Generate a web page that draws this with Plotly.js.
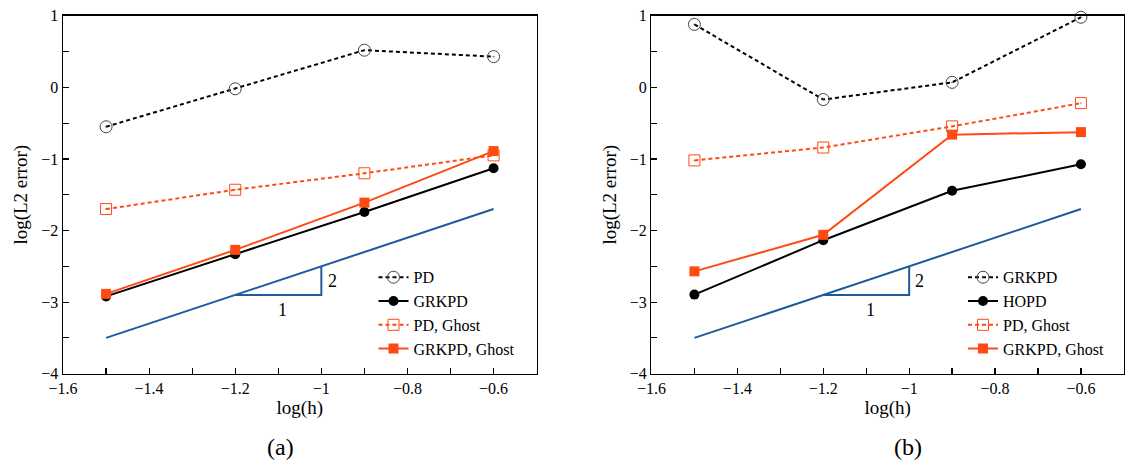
<!DOCTYPE html>
<html>
<head>
<meta charset="utf-8">
<script src="https://cdn.plot.ly/plotly-3.0.1.min.js"></script>
<style>html,body{margin:0;padding:0;background:#fff;}#chart{width:1125px;height:475px;}</style>
</head>
<body>
<div id="chart"></div>
<script>
// ---- data ----
const logH = [-1.5, -1.2, -0.9, -0.6];

// panel (a)
const aPD = [-0.55, -0.02, 0.52, 0.43];
const aGRKPD = [-2.92, -2.33, -1.74, -1.13];
const aPDGhost = [-1.70, -1.43, -1.20, -0.95];
const aGRKPDGhost = [-2.885, -2.27, -1.61, -0.89];

// panel (b)
const bGRKPD = [0.88, -0.17, 0.07, 0.98];
const bHOPD = [-2.895, -2.135, -1.445, -1.075];
const bPDGhost = [-1.02, -0.84, -0.545, -0.22];
const bGRKPDGhost = [-2.57, -2.06, -0.66, -0.625];

// slope-2 reference line and triangle
const refX = [-1.5, -0.6];
const refY = [-3.5, -1.7];
const triX = [-1.2, -1.0, -1.0];
const triY = [-2.9, -2.9, -2.5];
const slopeLabels = ['2', '1'];
const slopeLabelX = [-0.975, -1.09];
const slopeLabelY = [-2.7, -3.11];

const names_a = ['PD', 'GRKPD', 'PD, Ghost', 'GRKPD, Ghost'];
const names_b = ['GRKPD', 'HOPD', 'PD, Ghost', 'GRKPD, Ghost'];
const panelLabels = ['(a)', '(b)'];

// ---- styles ----
const BLACK = '#000000';
const ORANGE = '#ff4a14';
const BLUE = '#1f5a9a';
const FONT = "'Liberation Serif', 'DejaVu Serif', serif";

function series(y, name, style, xa, ya, legend) {
  const s = {
    x: logH, y: y, name: name, type: 'scatter', mode: 'lines+markers',
    xaxis: xa, yaxis: ya, legend: legend, cliponaxis: false
  };
  if (style === 'dotCircle') {
    s.line = {color: BLACK, width: 2, dash: '4px,3px'};
    s.marker = {symbol: 'circle-open-dot', size: 12, color: '#444', line: {width: 1, color: '#444'}};
  } else if (style === 'solidCircle') {
    s.line = {color: BLACK, width: 2};
    s.marker = {symbol: 'circle', size: 10, color: BLACK};
  } else if (style === 'dotSquare') {
    s.line = {color: ORANGE, width: 2, dash: '4px,3px'};
    s.marker = {symbol: 'square-open-dot', size: 11, color: ORANGE, line: {width: 1, color: ORANGE}};
  } else {
    s.line = {color: ORANGE, width: 2};
    s.marker = {symbol: 'square', size: 10, color: ORANGE};
  }
  return s;
}

const styles = ['dotCircle', 'solidCircle', 'dotSquare', 'solidSquare'];
const dataA = [aPD, aGRKPD, aPDGhost, aGRKPDGhost];
const dataB = [bGRKPD, bHOPD, bPDGhost, bGRKPDGhost];

const traces = [];
[['x', 'y'], ['x2', 'y2']].forEach(([xa, ya]) => {
  traces.push({x: refX, y: refY, type: 'scatter', mode: 'lines', line: {color: BLUE, width: 2},
    xaxis: xa, yaxis: ya, showlegend: false, hoverinfo: 'skip'});
  traces.push({x: triX, y: triY, type: 'scatter', mode: 'lines', line: {color: BLUE, width: 2},
    xaxis: xa, yaxis: ya, showlegend: false, hoverinfo: 'skip'});
});
for (let i = 0; i < 4; i++) traces.push(series(dataA[i], names_a[i], styles[i], 'x', 'y', 'legend'));
for (let i = 0; i < 4; i++) traces.push(series(dataB[i], names_b[i], styles[i], 'x2', 'y2', 'legend2'));

function xAxis(domain, anchor) {
  return {
    domain: domain, anchor: anchor, range: [-1.6, -0.5],
    tickmode: 'array', tickvals: [-1.6, -1.4, -1.2, -1.0, -0.8, -0.6],
    ticktext: ['\u22121.6', '\u22121.4', '\u22121.2', '\u22121', '\u22120.8', '\u22120.6'],
    ticks: 'inside', ticklen: 6, tickwidth: 1.2, tickcolor: BLACK,
    minor: {dtick: 0.1, tick0: -1.6, ticks: 'inside', ticklen: 6, tickwidth: 1.2, tickcolor: BLACK},
    showline: true, linecolor: BLACK, linewidth: 1.5, mirror: true,
    showgrid: false, zeroline: false,
    tickfont: {family: FONT, size: 16, color: BLACK},
    title: {text: 'log(h)', font: {family: FONT, size: 19, color: BLACK}, standoff: 4}
  };
}
function yAxis(domain, anchor) {
  return {
    domain: domain, anchor: anchor, range: [-4, 1],
    tickmode: 'array', tickvals: [-4, -3, -2, -1, 0, 1],
    ticktext: ['\u22124', '\u22123', '\u22122', '\u22121', '0', '1'],
    ticks: 'inside', ticklen: 6, tickwidth: 1.2, tickcolor: BLACK,
    minor: {dtick: 0.5, tick0: -4, ticks: 'inside', ticklen: 6, tickwidth: 1.2, tickcolor: BLACK},
    showline: true, linecolor: BLACK, linewidth: 1.5, mirror: true,
    showgrid: false, zeroline: false,
    tickfont: {family: FONT, size: 16, color: BLACK},
    title: {text: 'log(L2 error)', font: {family: FONT, size: 19, color: BLACK}, standoff: 8}
  };
}

const yDom = [0.2133, 0.9667];
const annotations = [];
[['x', 'y'], ['x2', 'y2']].forEach(([xa, ya]) => {
  for (let k = 0; k < 2; k++) {
    annotations.push({xref: xa, yref: ya, x: slopeLabelX[k], y: slopeLabelY[k], text: slopeLabels[k],
      showarrow: false, font: {family: FONT, size: 18, color: BLACK}});
  }
});
annotations.push({xref: 'paper', yref: 'paper', x: 0.2356, y: 0.027, text: panelLabels[0], showarrow: false,
  font: {family: FONT, size: 24, color: BLACK}});
annotations.push({xref: 'paper', yref: 'paper', x: 0.821, y: 0.027, text: panelLabels[1], showarrow: false,
  font: {family: FONT, size: 24, color: BLACK}});

const legendBase = {
  yanchor: 'top', y: 0.452, xanchor: 'left', bgcolor: 'rgba(0,0,0,0)', borderwidth: 0,
  font: {family: FONT, size: 16, color: BLACK}, itemwidth: 30, tracegroupgap: 0
};

const layout = {
  width: 1125, height: 475,
  margin: {l: 0, r: 0, t: 0, b: 0},
  paper_bgcolor: '#fff', plot_bgcolor: '#fff',
  showlegend: true,
  xaxis: xAxis([0.056, 0.477], 'y'),
  yaxis: yAxis(yDom, 'x'),
  xaxis2: xAxis([0.5791, 0.999], 'y2'),
  yaxis2: yAxis(yDom, 'x2'),
  legend: Object.assign({}, legendBase, {x: 0.332}),
  legend2: Object.assign({}, legendBase, {x: 0.856}),
  annotations: annotations
};

Plotly.newPlot('chart', traces, layout, {displayModeBar: false, staticPlot: true});
</script>
</body>
</html>
